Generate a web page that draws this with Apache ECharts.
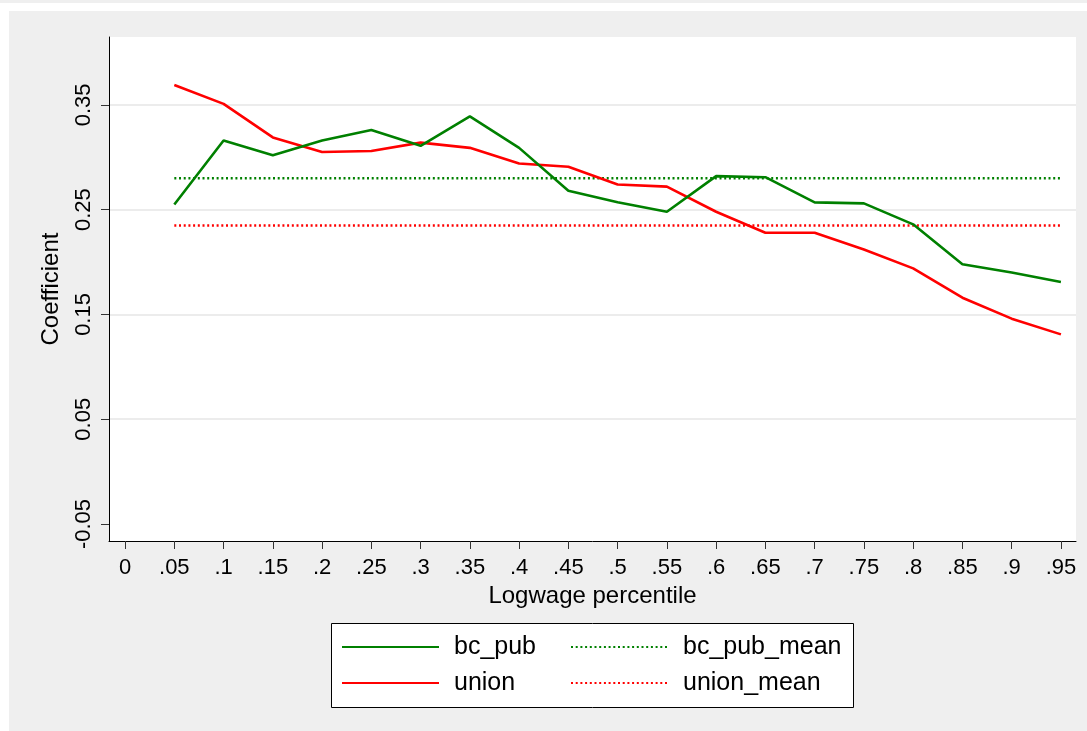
<!DOCTYPE html>
<html>
<head>
<meta charset="utf-8">
<script src="https://cdn.jsdelivr.net/npm/echarts@6/dist/echarts.min.js"></script>
<style>
html,body{margin:0;padding:0;background:#ffffff;}
#chart{width:1087px;height:731px;}
</style>
</head>
<body>
<div id="chart"></div>
<script>
// ---- data ----
const percentiles = [0.05, 0.10, 0.15, 0.20, 0.25, 0.30, 0.35, 0.40, 0.45, 0.50, 0.55, 0.60, 0.65, 0.70, 0.75, 0.80, 0.85, 0.90, 0.95];
const bcPub = [0.255, 0.316, 0.302, 0.316, 0.326, 0.311, 0.339, 0.309, 0.268, 0.257, 0.248, 0.282, 0.281, 0.257, 0.256, 0.236, 0.198, 0.190, 0.181];
const unionVals = [0.369, 0.351, 0.319, 0.305, 0.306, 0.314, 0.309, 0.294, 0.291, 0.274, 0.272, 0.248, 0.228, 0.228, 0.212, 0.194, 0.166, 0.146, 0.131];
const bcPubMean = [0.280, 0.280, 0.280, 0.280, 0.280, 0.280, 0.280, 0.280, 0.280, 0.280, 0.280, 0.280, 0.280, 0.280, 0.280, 0.280, 0.280, 0.280, 0.280];
const unionMean = [0.235, 0.235, 0.235, 0.235, 0.235, 0.235, 0.235, 0.235, 0.235, 0.235, 0.235, 0.235, 0.235, 0.235, 0.235, 0.235, 0.235, 0.235, 0.235];
const xTicks = [0, 0.05, 0.10, 0.15, 0.20, 0.25, 0.30, 0.35, 0.40, 0.45, 0.50, 0.55, 0.60, 0.65, 0.70, 0.75, 0.80, 0.85, 0.90, 0.95];
const xTickLabels = ['0', '.05', '.1', '.15', '.2', '.25', '.3', '.35', '.4', '.45', '.5', '.55', '.6', '.65', '.7', '.75', '.8', '.85', '.9', '.95'];
const yTicks = [-0.05, 0.05, 0.15, 0.25, 0.35];
const yTickLabels = ['-0.05', '0.05', '0.15', '0.25', '0.35'];
const yGridLines = [0.05, 0.15, 0.25, 0.35];
const seriesNames = ['bc_pub', 'union', 'bc_pub_mean', 'union_mean'];

// ---- chart ----
const FONT = "'Liberation Sans', Arial, sans-serif";
const GREEN = '#008000';
const RED = '#ff0000';
const DOT = [2, 2.7];

function pairs(vals) { return percentiles.map((p, i) => [p, vals[i]]); }
function lookup(ticks, labels, v) {
  const i = ticks.findIndex(t => Math.abs(t - v) < 1e-6);
  return i >= 0 ? labels[i] : '';
}

const chart = echarts.init(document.getElementById('chart'), null, {renderer: 'canvas'});

const option = {
  animation: false,
  backgroundColor: '#efefef',
  textStyle: {fontFamily: FONT},
  graphic: [
    {type: 'rect', z: -100, silent: true, shape: {x: 0, y: 3, width: 1087, height: 8}, style: {fill: '#ffffff'}},
    {type: 'rect', z: -100, silent: true, shape: {x: 0, y: 3, width: 9, height: 728}, style: {fill: '#ffffff'}},
    {type: 'rect', z: 1, silent: true, shape: {x: 331.5, y: 623.5, width: 522, height: 84}, style: {fill: '#ffffff', stroke: '#000000', lineWidth: 1}}
  ],
  grid: {
    left: 109, right: 11, top: 37, bottom: 190,
    show: true, backgroundColor: '#ffffff', borderWidth: 0,
    outerBoundsMode: 'none'
  },
  xAxis: {
    type: 'value',
    min: -0.0163, max: 0.9653,
    name: 'Logwage percentile',
    nameLocation: 'middle',
    nameGap: 41,
    nameTextStyle: {fontSize: 24, color: '#000', fontFamily: FONT, verticalAlign: 'top'},
    axisLine: {show: true, onZero: false, lineStyle: {color: '#000', width: 1}},
    axisTick: {show: true, length: 8, customValues: xTicks, lineStyle: {color: '#333', width: 1}},
    axisLabel: {
      customValues: xTicks, margin: 16, fontSize: 22, color: '#000', fontFamily: FONT,
      formatter: v => lookup(xTicks, xTickLabels, v)
    },
    splitLine: {show: false}
  },
  yAxis: {
    type: 'value',
    min: -0.0662, max: 0.4148,
    name: 'Coefficient',
    nameLocation: 'middle',
    nameGap: 46,
    nameTextStyle: {fontSize: 24, color: '#000', fontFamily: FONT},
    axisLine: {show: true, onZero: false, lineStyle: {color: '#000', width: 1}},
    axisTick: {show: true, length: 8, customValues: yTicks, lineStyle: {color: '#333', width: 1}},
    axisLabel: {
      customValues: yTicks, rotate: 90, margin: 14, fontSize: 22, color: '#000', fontFamily: FONT,
      formatter: v => lookup(yTicks, yTickLabels, v)
    },
    splitLine: {show: false}
  },
  legend: [
    {
      left: 341, top: 632, orient: 'vertical', padding: 0,
      itemWidth: 97, itemHeight: 14, itemGap: 6,
      data: [seriesNames[0], seriesNames[1]],
      itemStyle: {opacity: 0, borderWidth: 0},
      textStyle: {fontSize: 25, color: '#000', fontFamily: FONT, lineHeight: 30, padding: [0, 0, 0, 10]},
      selectedMode: false
    },
    {
      left: 570, top: 632, orient: 'vertical', padding: 0,
      itemWidth: 96, itemHeight: 14, itemGap: 6,
      data: [seriesNames[2], seriesNames[3]],
      itemStyle: {opacity: 0, borderWidth: 0},
      textStyle: {fontSize: 25, color: '#000', fontFamily: FONT, lineHeight: 30, padding: [0, 0, 0, 11]},
      selectedMode: false
    }
  ],
  series: [
    {
      name: 'grid', type: 'line', z: 1, silent: true,
      data: pairs(bcPub), symbol: 'none',
      lineStyle: {opacity: 0, width: 0},
      markLine: {
        silent: true, symbol: 'none', animation: false, z: 0,
        label: {show: false},
        lineStyle: {color: '#e6e6e6', width: 1.5, type: 'solid'},
        emphasis: {disabled: true},
        data: yGridLines.map(v => ({yAxis: v}))
      }
    },
    {
      name: seriesNames[2], type: 'line', z: 3, symbol: 'none', silent: true,
      data: pairs(bcPubMean), color: GREEN,
      lineStyle: {color: GREEN, width: 2.5, type: DOT, cap: 'butt'}
    },
    {
      name: seriesNames[3], type: 'line', z: 3, symbol: 'none', silent: true,
      data: pairs(unionMean), color: RED,
      lineStyle: {color: RED, width: 2.5, type: DOT, cap: 'butt'}
    },
    {
      name: seriesNames[1], type: 'line', z: 4, symbol: 'none', silent: true,
      data: pairs(unionVals), color: RED,
      lineStyle: {color: RED, width: 2.6}
    },
    {
      name: seriesNames[0], type: 'line', z: 5, symbol: 'none', silent: true,
      data: pairs(bcPub), color: GREEN,
      lineStyle: {color: GREEN, width: 2.6}
    }
  ]
};
chart.setOption(option);
</script>
</body>
</html>
